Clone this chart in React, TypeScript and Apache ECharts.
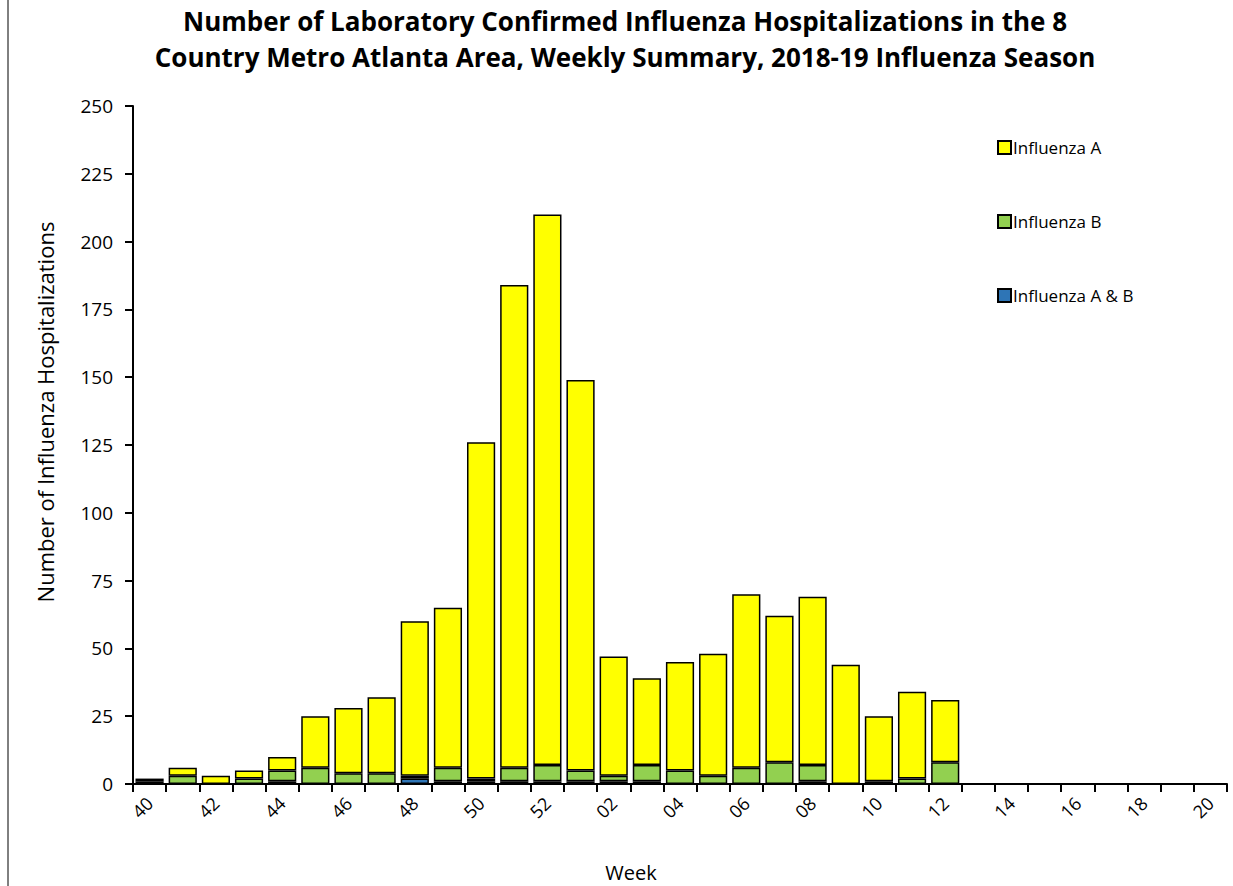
import React, { useEffect, useRef } from "react";
import * as echarts from "echarts";

const weeks: string[] = [
  "40", "41", "42", "43", "44", "45", "46", "47", "48", "49", "50", "51", "52",
  "01", "02", "03", "04", "05", "06", "07", "08", "09", "10", "11", "12", "13",
  "14", "15", "16", "17", "18", "19", "20",
];
const fluAB: (number | null)[] = [0, 0, 0, 0, 1, 0, 0, 0, 2, 1, 1, 1, 1, 1, 1, 1, 0, 0, 0, 0, 1, 0, 0, 0, 0];
const fluB: (number | null)[] = [1, 3, 0, 2, 4, 6, 4, 4, 1, 5, 1, 5, 6, 4, 2, 6, 5, 3, 6, 8, 6, 0, 1, 2, 8];
const fluA: (number | null)[] = [1, 3, 3, 3, 5, 19, 24, 28, 57, 59, 124, 178, 203, 144, 44, 32, 40, 45, 64, 54, 62, 44, 24, 32, 23];
const yTicks = { min: 0, max: 250, interval: 25 };

const FONT = "'Open Sans', 'Noto Sans', sans-serif";

export default function App() {
  const ref = useRef<HTMLDivElement>(null);
  useEffect(() => {
    const chart = echarts.init(ref.current!, null, { renderer: "svg" });
    const barStyle = (color: string) => ({
      color,
      borderColor: "#000",
      borderWidth: 1.5,
    });
    chart.setOption({
      animation: false,
      backgroundColor: "#fff",
      title: {
        text: "Number of Laboratory Confirmed Influenza Hospitalizations in the 8\nCountry Metro Atlanta Area, Weekly Summary, 2018-19 Influenza Season",
        left: 625,
        textAlign: "center",
        top: 3,
        padding: 0,
        textStyle: {
          fontFamily: FONT,
          fontWeight: "bold",
          fontSize: 26,
          lineHeight: 36,
          color: "#000",
        },
      },
      legend: {
        orient: "vertical",
        left: 992,
        top: 134,
        itemGap: 57,
        itemWidth: 13,
        itemHeight: 13,
        icon: "rect",
        textStyle: { fontFamily: FONT, fontSize: 17, color: "#000", padding: [0, 0, 0, -3] },
        data: ["Influenza A", "Influenza B", "Influenza A & B"],
      },
      grid: { left: 133, right: 6, top: 106, bottom: 102, containLabel: false },
      xAxis: {
        type: "category",
        data: weeks,
        boundaryGap: true,
        axisLine: { lineStyle: { color: "#000", width: 2 } },
        axisTick: { show: true, interval: 0, length: 8, lineStyle: { color: "#000", width: 2 } },
        axisLabel: {
          interval: 1,
          rotate: 45,
          fontFamily: FONT,
          fontSize: 18,
          color: "#000",
          margin: 16,
        },
      },
      yAxis: {
        type: "value",
        min: yTicks.min,
        max: yTicks.max,
        interval: yTicks.interval,
        splitLine: { show: false },
        axisLine: { show: true, lineStyle: { color: "#000", width: 2 } },
        axisTick: { show: true, length: 8, lineStyle: { color: "#000", width: 2 } },
        axisLabel: { fontFamily: FONT, fontSize: 19, color: "#000", margin: 20 },
      },
      graphic: [
        {
          type: "line",
          shape: { x1: 8, y1: 0, x2: 8, y2: 886 },
          style: { stroke: "#000", lineWidth: 1 },
        },
        {
          type: "text",
          x: 45,
          y: 412,
          rotation: Math.PI / 2,
          style: {
            text: "Number of Influenza Hospitalizations",
            fontFamily: FONT,
            fontSize: 22,
            fill: "#000",
            align: "center",
            verticalAlign: "middle",
          },
        },
        {
          type: "text",
          x: 631,
          y: 862,
          style: {
            text: "Week",
            fontFamily: FONT,
            fontSize: 20,
            fill: "#000",
            align: "center",
            verticalAlign: "top",
          },
        },
      ],
      series: [
        {
          name: "Influenza A & B",
          type: "bar",
          stack: "total",
          barCategoryGap: "15%",
          data: fluAB,
          itemStyle: barStyle("#2e75b6"),
        },
        {
          name: "Influenza B",
          type: "bar",
          stack: "total",
          data: fluB,
          itemStyle: barStyle("#92d050"),
        },
        {
          name: "Influenza A",
          type: "bar",
          stack: "total",
          data: fluA,
          itemStyle: barStyle("#ffff00"),
        },
      ],
    });
    return () => chart.dispose();
  }, []);
  return (
    <div
      ref={ref}
      style={{ position: "absolute", left: 0, top: 0, width: 1233, height: 886 }}
    />
  );
}
